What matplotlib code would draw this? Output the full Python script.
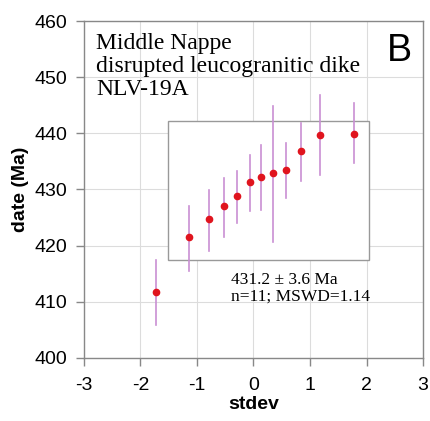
import matplotlib
matplotlib.use("Agg")
import matplotlib.pyplot as plt
from matplotlib.patches import Rectangle

stdev = [-1.73, -1.14, -0.78, -0.52, -0.29, -0.07, 0.13, 0.34, 0.58, 0.84, 1.18, 1.77]
date = [411.8, 421.5, 424.8, 427.0, 428.9, 431.3, 432.3, 433.0, 433.4, 436.9, 439.7, 439.9]
err_hi = [417.5, 427.1, 429.9, 432.1, 433.3, 436.2, 437.9, 444.9, 438.3, 441.8, 446.8, 445.4]
err_lo = [405.9, 415.4, 419.1, 421.5, 424.0, 426.1, 426.4, 420.6, 428.5, 431.5, 432.6, 434.8]
xticks = [-3, -2, -1, 0, 1, 2, 3]
yticks = [400, 410, 420, 430, 440, 450, 460]

fig = plt.figure(figsize=(4.30, 4.21), dpi=100)
ax = fig.add_axes([0.195, 0.150, 0.789, 0.800])
ax.set_xlim(-3, 3)
ax.set_ylim(400, 460)
ax.set_xticks(xticks)
ax.set_yticks(yticks)
ax.set_xticklabels([str(t) for t in xticks], fontfamily="Liberation Sans", fontsize=14)
ax.set_yticklabels([str(t) for t in yticks], fontfamily="Liberation Sans", fontsize=14)
ax.grid(True, color="#dcdcdc", linewidth=0.8)
ax.set_axisbelow(True)
for s in ax.spines.values():
    s.set_color("#888888")
    s.set_linewidth(1.0)
ax.tick_params(color="#888888", length=6, width=1, direction="out")
ax.tick_params(axis="x", pad=8)
ax.tick_params(axis="y", pad=6)

ax.set_xlabel("stdev", fontfamily="Liberation Sans", fontweight="bold", fontsize=14, labelpad=1)
ax.set_ylabel("date (Ma)", fontfamily="Liberation Sans", fontweight="bold", fontsize=14, labelpad=4)

rect = Rectangle((-1.51, 417.5), 3.55, 24.7, facecolor="white", edgecolor="#999999", linewidth=1.0, zorder=1.5)
ax.add_patch(rect)

for x, lo, hi in zip(stdev, err_lo, err_hi):
    ax.plot([x, x], [lo, hi], color="#c98fd3", linewidth=1.2, zorder=2)
ax.plot(stdev, date, "o", color="#e0141e", markersize=4.5, zorder=3)

ax.text(0.037, 0.965, "Middle Nappe\ndisrupted leucogranitic dike\nNLV-19A", transform=ax.transAxes,
        ha="left", va="top", fontfamily="Liberation Serif", fontsize=17, linespacing=1.12)
ax.text(0.966, 0.965, "B", transform=ax.transAxes, ha="right", va="top",
        fontfamily="Liberation Sans", fontsize=27)
ax.text(-0.4, 415.3, "431.2 \u00b1 3.6 Ma\nn=11; MSWD=1.14", ha="left", va="top",
        fontfamily="Liberation Serif", fontsize=12.5, linespacing=1.05)

fig.savefig("out.png", dpi=100)
